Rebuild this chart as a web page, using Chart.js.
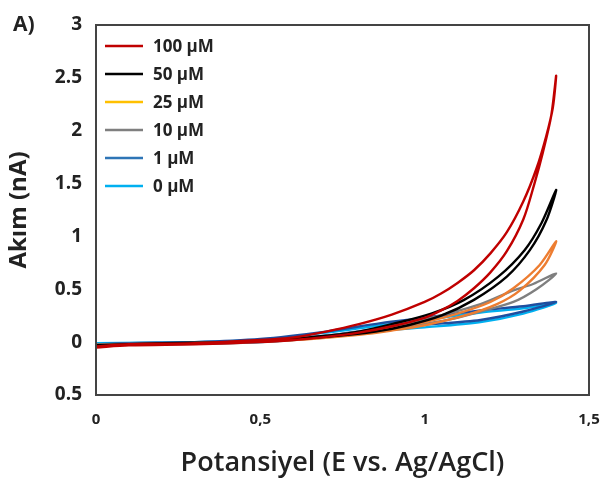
<!DOCTYPE html>
<html><head><meta charset="utf-8">
<script src="https://cdn.jsdelivr.net/npm/chart.js@4/dist/chart.umd.min.js"></script>
<style>html,body{margin:0;padding:0;background:#fff}#wrap{width:600px;height:481px;position:relative}</style>
</head><body><div id="wrap"><canvas id="c"></canvas></div>
<script>
// ---- data ----
const seriesLabels = ['100 µM','50 µM','25 µM','10 µM','1 µM','0 µM'];
const lineColors   = ['#C00000','#000000','#ED7D31','#7F7F7F','#1F4E9F','#00B0F0'];
const legendColors = ['#C00000','#000000','#FFC000','#7F7F7F','#2E75B6','#00B0F0'];
const xTickLabels = ['0','0,5','1','1,5'];
const yTickLabels = ['0.5','0','0.5','1','1.5','2','2.5','3'];

// forward scan then reverse scan for each concentration
const E_100 = [0,0.1,0.3,0.5,0.6,0.7,0.8,0.9,1.0,1.05,1.1,1.15,1.2,1.25,1.3,1.334,1.36,1.385,1.40, 1.39,1.37,1.34,1.30,1.25,1.20,1.15,1.10,1.05,1.0,0.9,0.8,0.7,0.6,0.5,0.3,0.1,0];
const I_100 = [-0.05,-0.03,-0.02,0.0,0.02,0.05,0.09,0.15,0.23,0.30,0.39,0.51,0.66,0.86,1.16,1.50,1.80,2.14,2.52, 2.22,1.95,1.64,1.33,1.04,0.84,0.68,0.56,0.46,0.38,0.26,0.17,0.10,0.045,0.02,-0.01,-0.02,-0.04];

const E_50 = [0,0.3,0.5,0.7,0.85,0.95,1.05,1.15,1.25,1.32,1.37,1.40, 1.356,1.304,1.224,1.12,1.02,0.9,0.8,0.7,0.6,0.4,0.2,0];
const I_50 = [-0.03,-0.01,0.01,0.05,0.10,0.16,0.25,0.40,0.62,0.87,1.15,1.44, 1.13,0.87,0.62,0.40,0.27,0.17,0.10,0.06,0.03,0.0,-0.01,-0.03];

const E_25 = [0,0.4,0.6,0.8,0.9,1.0,1.12,1.22,1.29,1.365,1.40, 1.35,1.27,1.2,1.1,1.0,0.9,0.8,0.7,0.5,0.3,0];
const I_25 = [-0.03,0.0,0.02,0.07,0.11,0.16,0.25,0.36,0.49,0.73,0.955, 0.73,0.51,0.38,0.27,0.19,0.13,0.08,0.05,0.01,-0.01,-0.03];

const E_10 = [0,0.4,0.6,0.8,0.95,1.07,1.17,1.27,1.34,1.40, 1.33,1.27,1.17,1.07,0.95,0.8,0.6,0.4,0];
const I_10 = [-0.02,-0.01,0.02,0.08,0.15,0.21,0.29,0.38,0.50,0.65, 0.55,0.49,0.36,0.27,0.18,0.10,0.03,0.0,-0.02];

const E_1 = [0,0.3,0.5,0.7,0.867,1.0,1.17,1.3,1.40, 1.3,1.17,1.0,0.867,0.7,0.5,0.3,0.1,0];
const I_1 = [-0.02,-0.01,0.01,0.06,0.13,0.165,0.21,0.29,0.38, 0.34,0.30,0.23,0.18,0.10,0.03,0.0,-0.01,-0.02];

const E_0 = [0,0.3,0.5,0.7,0.867,1.0,1.17,1.3,1.40, 1.3,1.17,1.0,0.867,0.7,0.5,0.3,0];
const I_0 = [-0.01,-0.01,0.0,0.05,0.11,0.14,0.19,0.27,0.37, 0.32,0.28,0.21,0.16,0.09,0.02,0.0,-0.01];

const seriesE = [E_100,E_50,E_25,E_10,E_1,E_0];
const seriesI = [I_100,I_50,I_25,I_10,I_1,I_0];

const FONT = '"Open Sans", "DejaVu Sans", sans-serif';

const datasets = seriesLabels.map((lab,i)=>({
  label: lab,
  data: seriesE[i].map((e,k)=>({x:e, y:seriesI[i][k]})),
  borderColor: lineColors[i],
  backgroundColor: lineColors[i],
  borderWidth: 2.4,
  pointRadius: 0,
  showLine: true,
  tension: 0.3,
  fill: false
}));

const framePlugin = {
  id: 'frame',
  afterDraw(chart){
    const {ctx, chartArea:a} = chart;
    ctx.save();
    ctx.strokeStyle = '#444';
    ctx.lineWidth = 2;
    ctx.strokeRect(a.left, a.top, a.right-a.left, a.bottom-a.top);
    // legend inside the plot area
    ctx.font = 'bold 17px ' + FONT;
    ctx.textBaseline = 'middle';
    seriesLabels.forEach((lab,i)=>{
      const y = a.top + 21 + i*28;
      ctx.strokeStyle = legendColors[i];
      ctx.lineWidth = 2.5;
      ctx.beginPath();
      ctx.moveTo(a.left + 9, y);
      ctx.lineTo(a.left + 47, y);
      ctx.stroke();
      ctx.fillStyle = '#222';
      ctx.fillText(lab, a.left + 57, y + 1);
    });
    // panel letter
    ctx.font = 'bold 21px ' + FONT;
    ctx.fillStyle = '#222';
    ctx.textBaseline = 'alphabetic';
    ctx.fillText('A)', 13, 31);
    ctx.restore();
  }
};

new Chart(document.getElementById('c'), {
  type: 'scatter',
  data: { datasets },
  plugins: [framePlugin],
  options: {
    responsive: true,
    maintainAspectRatio: false,
    animation: false,
    devicePixelRatio: 1,
    layout: { padding: { top: 25, right: 11, left: 0, bottom: 0 } },
    plugins: { legend: { display: false }, tooltip: { enabled: false } },
    scales: {
      x: {
        type: 'linear', min: 0, max: 1.5,
        afterFit(s){ s.height = 86; s.paddingLeft = 0; s.paddingRight = 0; },
        grid: { display: false, drawTicks: false },
        border: { display: false },
        ticks: { stepSize: 0.5, padding: 16, color: '#222',
          font: { family: FONT, size: 15, weight: 'bold' },
          callback: (v)=> xTickLabels[Math.round(v/0.5)] },
        title: { display: true, text: 'Potansiyel (E vs. Ag/AgCl)', color: '#222',
          font: { family: FONT, size: 27, weight: '600' }, padding: { top: 0, bottom: 1 } }
      },
      y: {
        type: 'linear', min: -0.5, max: 3,
        afterFit(s){ s.width = 96; s.paddingTop = 0; s.paddingBottom = 0; },
        grid: { display: false, drawTicks: false },
        border: { display: false },
        ticks: { stepSize: 0.5, padding: 14, color: '#222',
          font: { family: FONT, size: 19, weight: 'bold' },
          callback: (v)=> yTickLabels[Math.round((v+0.5)/0.5)] },
        title: { display: true, text: 'Akım (nA)', color: '#222',
          font: { family: FONT, size: 24, weight: 'bold' }, padding: { top: 5, bottom: 0 } }
      }
    }
  }
});
</script>
</body></html>
